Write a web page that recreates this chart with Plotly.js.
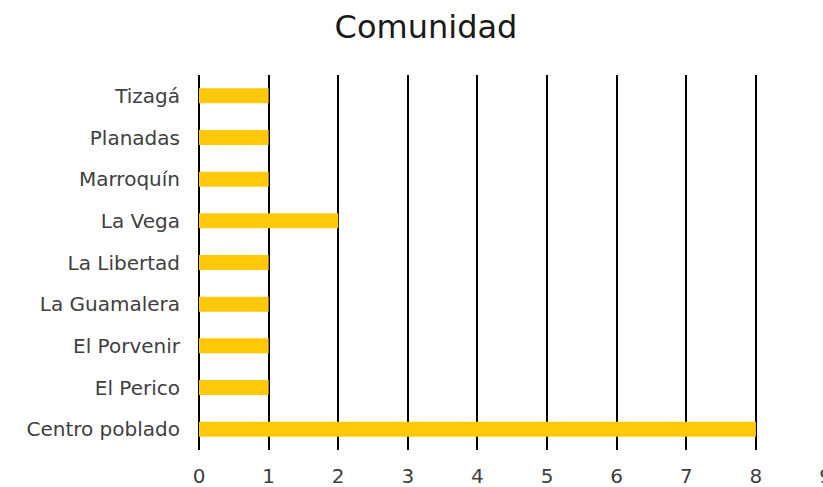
<!DOCTYPE html>
<html><head><meta charset="utf-8">
<script src="https://cdn.plot.ly/plotly-3.0.1.min.js"></script>
<style>html,body{margin:0;padding:0;overflow:hidden;background:#fff;width:823px;height:487px;}#chart{width:833px;height:487px;}</style>
</head><body><div id="chart"></div>
<script>
const categories = ["Centro poblado","El Perico","El Porvenir","La Guamalera","La Libertad","La Vega","Marroquín","Planadas","Tizagá"];
const values = [8,1,1,1,1,2,1,1,1];
const xTicks = [0,1,2,3,4,5,6,7,8,9];
const fontFam = "DejaVu Sans, sans-serif";
Plotly.newPlot("chart", [{
  type: "bar", orientation: "h", y: categories, x: values,
  marker: {color: "#FFC90A"}, hoverinfo: "x+y"
}], {
  width: 833, height: 487,
  margin: {l: 199, r: 4, t: 75, b: 37},
  paper_bgcolor: "#fff", plot_bgcolor: "#fff",
  title: {text: "Comunidad", font: {family: fontFam, size: 32, color: "#1a1a1a"}, x: 426/833, xanchor: "center", xref: "container", y: 0.945, yanchor: "middle"},
  bargap: 0.64,
  showlegend: false,
  xaxis: {range: [0, 9.05], tickvals: xTicks, ticktext: xTicks.map(String), showgrid: true, gridcolor: "#000", gridwidth: 2,
    zeroline: true, zerolinecolor: "#000", zerolinewidth: 2, showline: false, ticks: "", ticklabelstandoff: 12,
    tickfont: {family: fontFam, size: 20, color: "#404040"}},
  yaxis: {automargin: false, showgrid: false, zeroline: false, showline: false, ticks: "", ticklabelstandoff: 18,
    tickfont: {family: fontFam, size: 20, color: "#404040"}}
}, {displayModeBar: false, staticPlot: true});
</script></body></html>
